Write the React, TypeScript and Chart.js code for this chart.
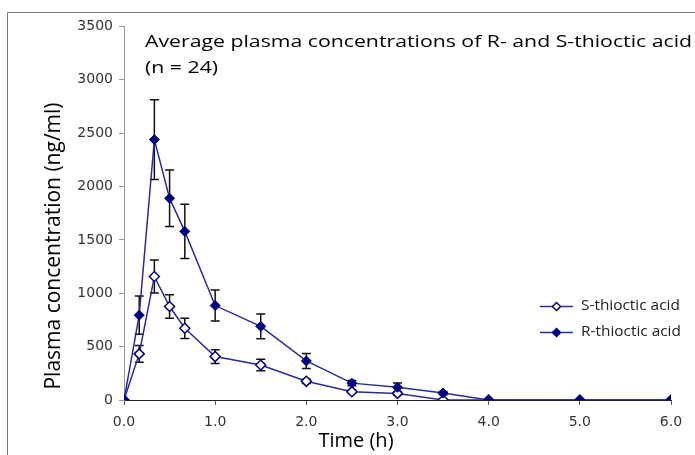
import React, { useEffect, useRef } from "react";
import { Chart, registerables } from "chart.js";

Chart.register(...registerables);

const times = [0, 0.167, 0.333, 0.5, 0.667, 1.0, 1.5, 2.0, 2.5, 3.0, 3.5, 4.0, 5.0, 6.0];
const rMean = [0, 795, 2440, 1890, 1580, 885, 690, 366, 158, 119, 65, 0, 0, 0];
const rErr = [0, 180, 373, 265, 255, 145, 117, 70, 25, 40, 15, 0, 0, 0];
const sMean = [0, 432, 1157, 876, 672, 407, 328, 175, 78, 62, 0, 0, 0, 0];
const sErr = [0, 78, 155, 110, 95, 65, 55, 20, 15, 15, 0, 0, 0, 0];
const seriesNames = ["R-thioctic acid", "S-thioctic acid"];
const titleLines = ["Average plasma concentrations of R- and S-thioctic acid", "(n = 24)"];
const xTitle = "Time (h)";
const yTitle = "Plasma concentration (ng/ml)";
const yTicks = [0, 500, 1000, 1500, 2000, 2500, 3000, 3500];
const xTicks = [0, 1, 2, 3, 4, 5, 6];

const NAVY = "#000080";
const LINE = "#2a2aa0";
const TITLE_FONT = "'Open Sans', sans-serif";
const TICK_FONT = "'DejaVu Sans', sans-serif";

function diamond(ctx: CanvasRenderingContext2D, x: number, y: number, r: number, fill: string) {
  ctx.beginPath();
  ctx.moveTo(x, y - r);
  ctx.lineTo(x + r, y);
  ctx.lineTo(x, y + r);
  ctx.lineTo(x - r, y);
  ctx.closePath();
  ctx.fillStyle = fill;
  ctx.fill();
  ctx.strokeStyle = NAVY;
  ctx.lineWidth = 1.5;
  ctx.stroke();
}

function stretchedText(ctx: CanvasRenderingContext2D, text: string, x: number, y: number, sx: number) {
  ctx.save();
  ctx.translate(x, y);
  ctx.scale(sx, 1);
  ctx.fillText(text, 0, 0);
  ctx.restore();
}

const decorPlugin = {
  id: "decor",
  beforeDatasetsDraw(chart: any) {
    const ctx = chart.ctx;
    const xs = chart.scales.x;
    const ys = chart.scales.y;
    ctx.save();
    ctx.strokeStyle = "#111";
    ctx.lineWidth = 1.5;
    const drawBars = (mean: number[], err: number[]) => {
      times.forEach((t, i) => {
        if (!err[i]) return;
        const x = xs.getPixelForValue(t);
        const yTop = ys.getPixelForValue(mean[i] + err[i]);
        const yBot = ys.getPixelForValue(Math.max(0, mean[i] - err[i]));
        ctx.beginPath();
        ctx.moveTo(x, yTop);
        ctx.lineTo(x, yBot);
        ctx.moveTo(x - 4.5, yTop);
        ctx.lineTo(x + 4.5, yTop);
        ctx.moveTo(x - 4.5, yBot);
        ctx.lineTo(x + 4.5, yBot);
        ctx.stroke();
      });
    };
    drawBars(sMean, sErr);
    drawBars(rMean, rErr);
    ctx.restore();
  },
  afterDraw(chart: any) {
    const ctx = chart.ctx;
    ctx.save();
    // frame
    ctx.strokeStyle = "#777";
    ctx.lineWidth = 1;
    ctx.beginPath();
    ctx.moveTo(7.5, 455);
    ctx.lineTo(7.5, 12.5);
    ctx.lineTo(695, 12.5);
    ctx.stroke();
    // title
    ctx.fillStyle = "#000";
    ctx.font = `17px ${TITLE_FONT}`;
    ctx.textAlign = "left";
    ctx.textBaseline = "alphabetic";
    stretchedText(ctx, titleLines[0], 145, 47, 1.25);
    stretchedText(ctx, titleLines[1], 145, 73, 1.25);
    // x title
    ctx.font = `20px ${TITLE_FONT}`;
    ctx.textAlign = "center";
    ctx.fillText(xTitle, 356, 447);
    // y title
    ctx.save();
    ctx.translate(54, 246);
    ctx.rotate(-Math.PI / 2);
    ctx.font = `21px ${TITLE_FONT}`;
    ctx.textBaseline = "middle";
    ctx.fillText(yTitle, 0, 0);
    ctx.restore();
    // legend
    const legendItems = [
      { name: seriesNames[1], fill: "#fff", y: 306.5 },
      { name: seriesNames[0], fill: NAVY, y: 332.5 },
    ];
    ctx.font = `14px ${TITLE_FONT}`;
    ctx.textAlign = "left";
    ctx.textBaseline = "middle";
    legendItems.forEach((it) => {
      ctx.strokeStyle = LINE;
      ctx.lineWidth = 1.5;
      ctx.beginPath();
      ctx.moveTo(540, it.y);
      ctx.lineTo(573, it.y);
      ctx.stroke();
      diamond(ctx, 556.5, it.y, 4, it.fill);
      ctx.fillStyle = "#222";
      stretchedText(ctx, it.name, 581, it.y, 1.1);
    });
    ctx.restore();
  },
};

export default function App() {
  const ref = useRef<HTMLCanvasElement | null>(null);
  useEffect(() => {
    if (!ref.current) return;
    const chart = new Chart(ref.current, {
      type: "line",
      data: {
        datasets: [
          {
            label: seriesNames[0],
            data: times.map((t, i) => ({ x: t, y: rMean[i] })),
            borderColor: LINE,
            borderWidth: 1.5,
            pointStyle: "rectRot",
            pointRadius: 5,
            pointBackgroundColor: NAVY,
            pointBorderColor: NAVY,
            pointBorderWidth: 1,
            tension: 0,
          },
          {
            label: seriesNames[1],
            data: times.map((t, i) => ({ x: t, y: sMean[i] })),
            borderColor: LINE,
            borderWidth: 1.5,
            pointStyle: "rectRot",
            pointRadius: 5,
            pointBackgroundColor: "#fff",
            pointBorderColor: NAVY,
            pointBorderWidth: 1.5,
            tension: 0,
          },
        ],
      },
      options: {
        animation: false,
        responsive: false,
        layout: { padding: { left: 0, right: 24, top: 26.5, bottom: 0 } },
        plugins: { legend: { display: false }, tooltip: { enabled: false }, title: { display: false } },
        scales: {
          x: {
            type: "linear",
            min: 0,
            max: 6,
            afterFit: (s: any) => {
              s.height = 55;
            },
            afterBuildTicks: (s: any) => {
              s.ticks = xTicks.map((v) => ({ value: v }));
            },
            ticks: {
              font: { family: TICK_FONT, size: 14 },
              color: "#333",
              padding: 9,
              maxRotation: 0,
              callback: (v: any) => Number(v).toFixed(1),
            },
            grid: { drawOnChartArea: false, drawTicks: true, tickLength: 5, color: "#555" },
            border: { display: true, color: "#222", width: 1 },
          },
          y: {
            min: 0,
            max: 3500,
            afterFit: (s: any) => {
              s.width = 124;
            },
            afterBuildTicks: (s: any) => {
              s.ticks = yTicks.map((v) => ({ value: v }));
            },
            ticks: {
              font: { family: TICK_FONT, size: 14 },
              color: "#333",
              padding: 6,
              callback: (v: any) => String(v),
            },
            grid: { drawOnChartArea: false, drawTicks: true, tickLength: 5, color: "#999" },
            border: { display: true, color: "#999", width: 1 },
          },
        },
      },
      plugins: [decorPlugin],
    });
    return () => chart.destroy();
  }, []);
  return (
    <div style={{ position: "fixed", left: 0, top: 0, width: 695, height: 455, background: "#fff" }}>
      <canvas ref={ref} width={695} height={455} style={{ width: 695, height: 455, display: "block" }} />
    </div>
  );
}
